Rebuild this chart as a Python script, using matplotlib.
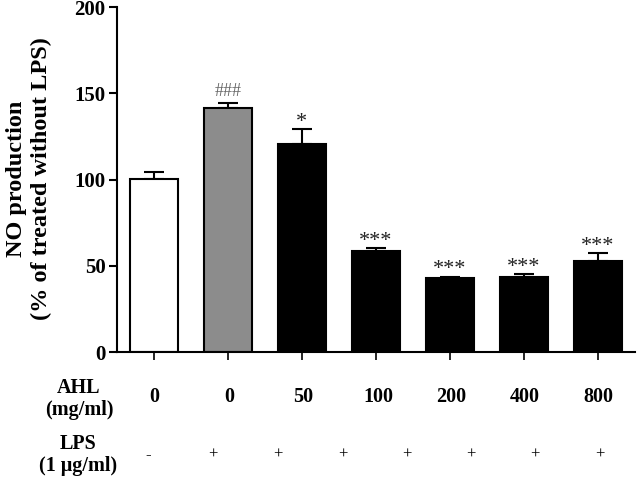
import matplotlib.pyplot as plt
import numpy as np

plt.rcParams['font.family'] = 'Liberation Serif'
plt.rcParams['font.weight'] = 'bold'

ahl = ['0', '0', '50', '100', '200', '400', '800']
lps = ['-', '+', '+', '+', '+', '+', '+', '+']
values = [100.1, 141.3, 120.4, 58.7, 43.1, 43.7, 52.8]
errors = [4.4, 2.9, 8.9, 1.4, 0.6, 1.5, 4.4]
marks = ['', '###', '*', '***', '***', '***', '***']
colors = ['white', '#8c8c8c', 'black', 'black', 'black', 'black', 'black']

fig = plt.figure(figsize=(6.38, 4.79), dpi=100)
ax = fig.add_axes([0.183, 0.265, 0.812, 0.72])

x = np.arange(len(values))
ax.bar(x, values, width=0.65, color=colors, edgecolor='black', linewidth=1.5, zorder=2)
ax.errorbar(x, values, yerr=[np.zeros(len(errors)), errors], fmt='none',
            ecolor='black', elinewidth=1.5, capsize=7, capthick=1.5, zorder=1)

for i, m in enumerate(marks):
    if m == '':
        continue
    top = values[i] + errors[i]
    if m.startswith('#'):
        ax.text(x[i], top + 4.5, m, ha='center', va='baseline', fontsize=13,
                color='#666666', fontweight='normal')
    else:
        ax.text(x[i], top + 1.5, m, ha='center', va='baseline', fontsize=16,
                color='#222222', fontweight='normal')

ax.set_xlim(-0.5, 6.5)
ax.set_ylim(0, 200)
ax.set_yticks([0, 50, 100, 150, 200])
ax.set_xticks(x)
ax.set_xticklabels([])
ax.tick_params(axis='y', labelsize=15, width=1.5, length=6, pad=2)
ax.tick_params(axis='x', width=1.2, length=6)
for s in ['top', 'right']:
    ax.spines[s].set_visible(False)
for s in ['left', 'bottom']:
    ax.spines[s].set_linewidth(1.5)

W, H = 638, 479
fig.text(29 / W, 1 - 179 / H, 'NO production\n(% of treated without LPS)',
         rotation=90, ha='center', va='center', fontsize=17.5, linespacing=1.25)

# table rows below the axis
fig.text(79 / W, 1 - 399 / H, 'AHL\n(mg/ml)', ha='center', va='center',
         fontsize=14.5, linespacing=1.1)
ahl_x = [154, 229, 303, 378, 451, 525, 598]
for xp, lab in zip(ahl_x, ahl):
    fig.text(xp / W, 1 - 397 / H, lab, ha='center', va='center', fontsize=14.5)

fig.text(78 / W, 1 - 455 / H, 'LPS\n(1 μg/ml)', ha='center', va='center',
         fontsize=14.5, linespacing=1.1)
lps_x = [148, 213, 278, 343, 407, 471, 535, 600]
for xp, lab in zip(lps_x, lps):
    fig.text(xp / W, 1 - 455 / H, lab, ha='center', va='center', fontsize=12,
             fontweight='normal')

fig.savefig('out.png', dpi=100)
